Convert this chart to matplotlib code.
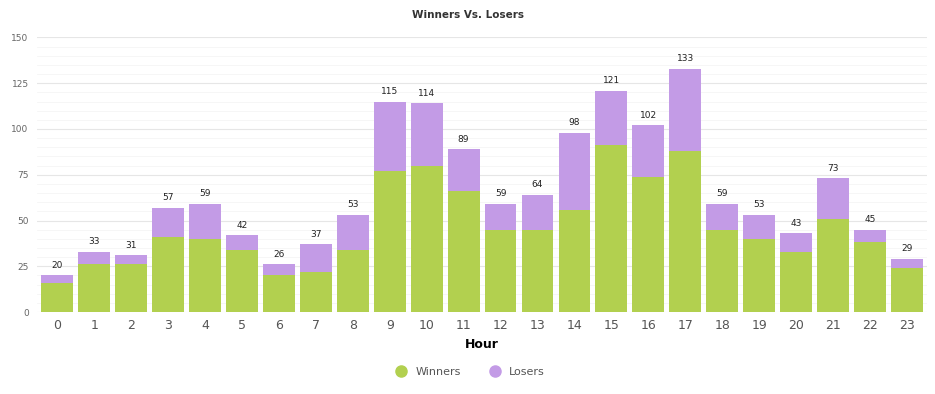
import matplotlib
matplotlib.use("Agg")
import matplotlib.pyplot as plt
from matplotlib.lines import Line2D
import numpy as np

hours = list(range(24))
totals = [20, 33, 31, 57, 59, 42, 26, 37, 53, 115, 114, 89,
          59, 64, 98, 121, 102, 133, 59, 53, 43, 73, 45, 29]
winners = [16, 26, 26, 41, 40, 34, 20, 22, 34, 77, 80, 66,
           45, 45, 56, 91, 74, 88, 45, 40, 33, 51, 38, 24]
losers = [t - w for t, w in zip(totals, winners)]

green = '#b2d04f'
purple = '#c39be6'

fig = plt.figure(figsize=(9.35, 3.94), dpi=100)
ax = fig.add_axes([0.0396, 0.208, 0.952, 0.697])

x = np.arange(len(hours))
ax.bar(x, winners, width=0.86, color=green, zorder=2)
ax.bar(x, losers, width=0.86, bottom=winners, color=purple, zorder=2)

for xi, t in zip(x, totals):
    ax.annotate(str(t), (xi, t), xytext=(0, 4), textcoords='offset points',
                ha='center', va='bottom', fontsize=6.5, color='#222222')

ax.set_xlim(-0.55, 23.55)
ax.set_ylim(0, 150)
ax.set_yticks(np.arange(0, 151, 25))
ax.set_yticks(np.arange(0, 151, 5), minor=True)
ax.grid(axis='y', which='major', color='#e6e6e6', linewidth=0.8, zorder=0)
ax.grid(axis='y', which='minor', color='#f5f5f5', linewidth=0.6, zorder=0)
ax.set_xticks(x)
ax.set_xticklabels([str(h) for h in hours], fontsize=9, color='#555555')
ax.tick_params(axis='y', which='both', labelsize=6.5, labelcolor='#666666', length=0, pad=6)
ax.tick_params(axis='x', length=0, pad=5)
for s in ax.spines.values():
    s.set_visible(False)

ax.set_xlabel('Hour', fontsize=9, fontweight='bold', labelpad=4)
fig.text(0.5, 0.962, 'Winners Vs. Losers', ha='center', va='center',
         fontsize=7.5, fontweight='bold', color='#333333')

handles = [Line2D([], [], marker='o', linestyle='', markersize=8, color=green),
           Line2D([], [], marker='o', linestyle='', markersize=8, color=purple)]
fig.legend(handles, ['Winners', 'Losers'], loc='center', bbox_to_anchor=(0.5, 0.057),
           ncol=2, frameon=False, fontsize=8, labelcolor='#555555',
           handletextpad=0.3, columnspacing=2.0)

fig.savefig('out.png', dpi=100)
